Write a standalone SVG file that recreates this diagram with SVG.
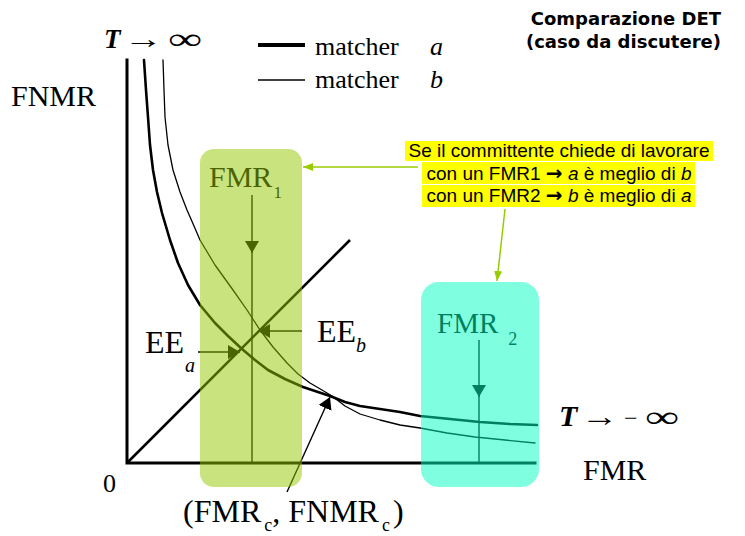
<svg xmlns="http://www.w3.org/2000/svg" width="745" height="536" viewBox="0 0 745 536">
<style>
.serif{font-family:"Liberation Serif","Times New Roman",serif;fill:#000}
.ax{stroke:#000;stroke-width:3;fill:none;stroke-linecap:square}
.ca{stroke:#000;stroke-width:2.6;fill:none;stroke-linejoin:round;stroke-linecap:round}
.cb{stroke:#000;stroke-width:1.3;fill:none;stroke-linejoin:round;stroke-linecap:round}
.thin{stroke:#000;stroke-width:1.4;fill:none}
.note{font-family:"Liberation Sans",Arial,sans-serif;font-size:19px;fill:#000;text-anchor:middle}
.arr{font-family:"DejaVu Sans",sans-serif;font-weight:bold;font-size:20px}
.hl{fill:#ffff00}
.conn{stroke:#99cc00;stroke-width:1.5;fill:none}
.title{font-family:"DejaVu Sans",Verdana,sans-serif;font-weight:bold;font-size:18px;text-anchor:end;fill:#000}
</style>
<defs>
<marker id="ab" viewBox="0 0 12 18" refX="12" refY="9" markerWidth="12" markerHeight="18" markerUnits="userSpaceOnUse" orient="auto">
<path d="M0,2 L12,9 L0,16 Z" fill="#000"/>
</marker>
<marker id="ag" viewBox="0 0 10 8" refX="10" refY="4" markerWidth="10" markerHeight="8" markerUnits="userSpaceOnUse" orient="auto">
<path d="M0,0 L10,4 L0,8 Z" fill="#99cc00"/>
</marker>
</defs>

<g id="title">
<text class="title" x="721" y="25">Comparazione DET</text>
<text class="title" x="721" y="48">(caso da discutere)</text>
</g>

<g id="axes">
<path class="ax" d="M127,60 L127,463 L535,463"/>
<text class="serif" x="11" y="106" font-size="30">FNMR</text>
<text class="serif" x="583" y="480" font-size="30">FMR</text>
<text class="serif" x="103" y="492" font-size="26">0</text>
</g>

<g id="legend">
<line x1="258" y1="45" x2="305" y2="45" stroke="#000" stroke-width="4"/>
<line x1="258" y1="80" x2="305" y2="80" stroke="#000" stroke-width="1.5"/>
<text class="serif" x="315" y="55" font-size="26">matcher<tspan x="430" font-style="italic">a</tspan></text>
<text class="serif" x="315" y="88" font-size="26">matcher<tspan x="430" font-style="italic">b</tspan></text>
</g>

<g id="threshold-labels">
<text class="serif" x="104" y="48" font-size="27"><tspan font-weight="bold" font-style="italic">T</tspan></text>
<text class="serif" x="124" y="48" font-size="27" transform="translate(124,0) scale(1.45,1) translate(-124,0)">→</text>
<text class="serif" x="168" y="49" font-size="30" transform="translate(168,0) scale(1.6,1) translate(-168,0)">∞</text>
<text class="serif" x="559" y="426" font-size="30"><tspan font-weight="bold" font-style="italic">T</tspan></text>
<text class="serif" x="581" y="426" font-size="28" transform="translate(581,0) scale(1.35,1) translate(-581,0)">→</text>
<text class="serif" x="624" y="426" font-size="24">−</text>
<text class="serif" x="645" y="427" font-size="30" transform="translate(645,0) scale(1.6,1) translate(-645,0)">∞</text>
</g>

<g id="curve-a">
<polyline class="ca" points="144,60 146,90 148,117 150,145 153,170 157,192 162,213 170,240 178,263 188,285 200,305 215,323 228,336 242,349 255,360 268,370 285,379 303,387 318,392 330,396 345,402 360,406 380,409 400,412 420,416 450,419 480,422 510,424 537,425"/>
</g>
<g id="curve-b">
<polyline class="cb" points="163,60 164,90 165,117 168,145 173,170 180,192 187,210 194,226 200,240 215,265 233,290 247,310 260,330 273,347 287,363 298,374 310,383 322,390 332,396 345,406 360,414 380,420 400,425 420,428 447,433 475,437 505,440 535,443"/>
</g>
<g id="ee-line">
<line x1="127" y1="463" x2="350" y2="240" stroke="#000" stroke-width="2.6"/>
</g>

<g id="fmr1-line">
<line class="thin" x1="252" y1="195" x2="252" y2="253" stroke-width="2" marker-end="url(#ab)"/>
<line class="thin" x1="252" y1="250" x2="252" y2="463" stroke-width="2"/>
<text class="serif" x="209" y="187" font-size="30">FMR<tspan font-size="17" dx="1" dy="11">1</tspan></text>
</g>
<g id="fmr2-line">
<line class="thin" x1="479" y1="340" x2="479" y2="397" stroke-width="2" marker-end="url(#ab)"/>
<line class="thin" x1="479" y1="394" x2="479" y2="463" stroke-width="2"/>
<text class="serif" x="437" y="333" font-size="29">FMR<tspan font-size="18" dx="10" dy="12">2</tspan></text>
</g>

<g id="ee-a">
<line class="thin" x1="198" y1="352" x2="240" y2="352" marker-end="url(#ab)"/>
<text class="serif" x="145" y="353" font-size="32">EE<tspan font-size="20" font-style="italic" dx="1" dy="19">a</tspan></text>
</g>
<g id="ee-b">
<line class="thin" x1="302" y1="331" x2="258" y2="331" marker-end="url(#ab)"/>
<text class="serif" x="317" y="342" font-size="32">EE<tspan font-size="20" font-style="italic" dx="0" dy="10">b</tspan></text>
</g>
<g id="crossing">
<line class="thin" x1="287" y1="492" x2="330" y2="397" stroke-width="1.2" marker-end="url(#ab)"/>
<text class="serif" x="183" y="522" font-size="32">(FMR<tspan font-size="18" dx="3" dy="9">c</tspan><tspan dy="-9">, FNMR</tspan><tspan font-size="18" dx="3" dy="9">c</tspan><tspan dy="-9" dx="3">)</tspan></text>
</g>

<g id="box-fmr1">
<rect x="200" y="149" width="102" height="338" rx="14" fill="#93c700" fill-opacity="0.5"/>
</g>
<g id="box-fmr2">
<rect x="421" y="282" width="118" height="205" rx="18" fill="#00ffc0" fill-opacity="0.5"/>
</g>

<g id="connectors">
<line class="conn" x1="418" y1="167" x2="303" y2="167" marker-end="url(#ag)"/>
<line class="conn" x1="505" y1="209" x2="497" y2="281" marker-end="url(#ag)"/>
</g>

<g id="note">
<rect class="hl" x="405" y="141" width="308" height="20"/>
<rect class="hl" x="422" y="162" width="273" height="22"/>
<rect class="hl" x="422" y="185" width="273" height="22"/>
<text class="note" x="559" y="157">Se il committente chiede di lavorare</text>
<text class="note" x="559" y="180">con un FMR1 <tspan class="arr">→</tspan> <tspan font-style="italic">a</tspan> è meglio di <tspan font-style="italic">b</tspan></text>
<text class="note" x="559" y="202">con un FMR2 <tspan class="arr">→</tspan> <tspan font-style="italic">b</tspan> è meglio di <tspan font-style="italic">a</tspan></text>
</g>
</svg>
